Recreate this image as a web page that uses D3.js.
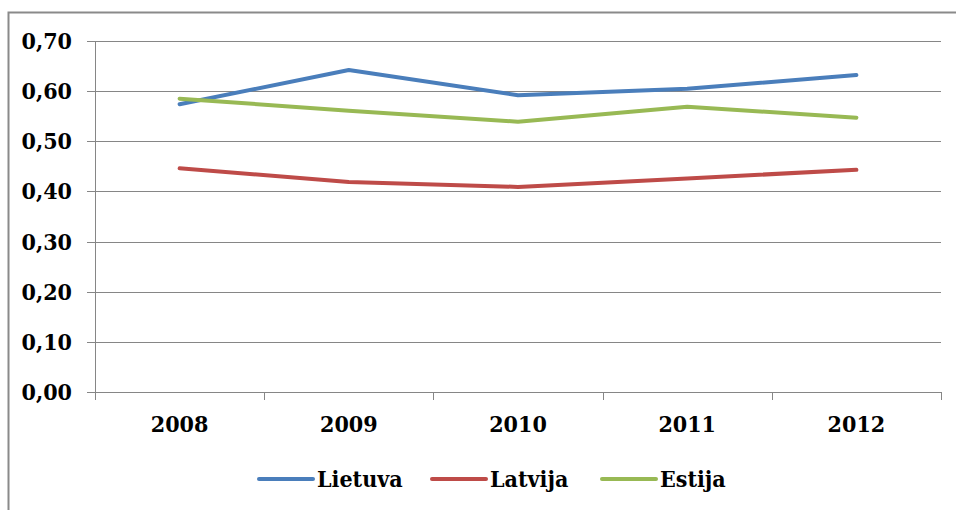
<!DOCTYPE html>
<html lang="lt">
<head>
<meta charset="UTF-8">
<title>Lietuva, Latvija, Estija 2008-2012</title>
<script src="https://d3js.org/d3.v7.min.js"></script>
<style>
    body { margin: 0; background: #fff; }
    svg text { font-family: "DejaVu Serif Condensed", "DejaVu Serif", serif; font-weight: bold; font-size: 23px; fill: #000; }
    .grid line { stroke: #868686; stroke-width: 1px; }
</style>
</head>
<body>
<script>
const years = ["2008", "2009", "2010", "2011", "2012"];
const seriesNames = ["Lietuva", "Latvija", "Estija"];
const lietuva = [0.574, 0.642, 0.592, 0.605, 0.632];
const latvija = [0.446, 0.419, 0.409, 0.426, 0.443];
const estija = [0.585, 0.561, 0.539, 0.569, 0.547];
const yTicks = [0, 0.1, 0.2, 0.3, 0.4, 0.5, 0.6, 0.7];
const colors = ["#4A7EBB", "#BE4B48", "#98B954"];

const W = 956, H = 510;
const margin = { left: 95, right: 15, top: 41, bottom: 118 };

const svg = d3.select("body").append("svg")
    .attr("width", W)
    .attr("height", H);

// outer chart frame (cut off at right and bottom)
svg.append("path")
    .attr("d", "M8.5," + H + "V12.5H" + W)
    .attr("fill", "none")
    .attr("stroke", "#8a8a8a")
    .attr("stroke-width", 2);

const x = d3.scaleBand().domain(years).range([margin.left, W - margin.right]);
const y = d3.scaleLinear().domain([0, 0.7]).range([H - margin.bottom, margin.top]);

const fmt = v => d3.format(".2f")(v).replace(".", ",");

// gridlines with tick marks
const grid = svg.append("g").attr("class", "grid");
grid.selectAll("line.h")
    .data(yTicks)
    .enter().append("line")
    .attr("class", "h")
    .attr("x1", margin.left - 8)
    .attr("x2", W - margin.right)
    .attr("y1", d => Math.round(y(d)) + 0.5)
    .attr("y2", d => Math.round(y(d)) + 0.5);

// y axis line
grid.append("line")
    .attr("x1", margin.left + 0.5).attr("x2", margin.left + 0.5)
    .attr("y1", y(0.7)).attr("y2", y(0));

// category ticks
const bounds = years.map(d => x(d)).concat([x(years[4]) + x.bandwidth()]);
grid.selectAll("line.v")
    .data(bounds)
    .enter().append("line")
    .attr("class", "v")
    .attr("x1", d => Math.round(d) + 0.5)
    .attr("x2", d => Math.round(d) + 0.5)
    .attr("y1", y(0))
    .attr("y2", y(0) + 8);

// y labels
svg.selectAll("text.ylab")
    .data(yTicks)
    .enter().append("text")
    .attr("class", "ylab")
    .attr("x", margin.left - 23)
    .attr("y", d => y(d) + 8)
    .attr("text-anchor", "end")
    .text(fmt);

// x labels
svg.selectAll("text.xlab")
    .data(years)
    .enter().append("text")
    .attr("class", "xlab")
    .attr("x", d => x(d) + x.bandwidth() / 2)
    .attr("y", y(0) + 40)
    .attr("text-anchor", "middle")
    .text(d => d);

// lines
const allSeries = [lietuva, latvija, estija];
const line = d3.line()
    .x((d, i) => x(years[i]) + x.bandwidth() / 2)
    .y(d => y(d));

svg.selectAll("path.series")
    .data(allSeries)
    .enter().append("path")
    .attr("class", "series")
    .attr("d", line)
    .attr("fill", "none")
    .attr("stroke", (d, i) => colors[i])
    .attr("stroke-width", 4)
    .attr("stroke-linecap", "round")
    .attr("stroke-linejoin", "round");

// legend
const legendX = [259, 432, 602];
const legend = svg.selectAll("g.legend")
    .data(seriesNames)
    .enter().append("g")
    .attr("class", "legend")
    .attr("transform", (d, i) => "translate(" + legendX[i] + ",479)");

legend.append("line")
    .attr("x1", 0).attr("x2", 54)
    .attr("stroke", (d, i) => colors[i])
    .attr("stroke-width", 4)
    .attr("stroke-linecap", "round");

legend.append("text")
    .attr("x", 58)
    .attr("y", 8)
    .text(d => d);
</script>
</body>
</html>
